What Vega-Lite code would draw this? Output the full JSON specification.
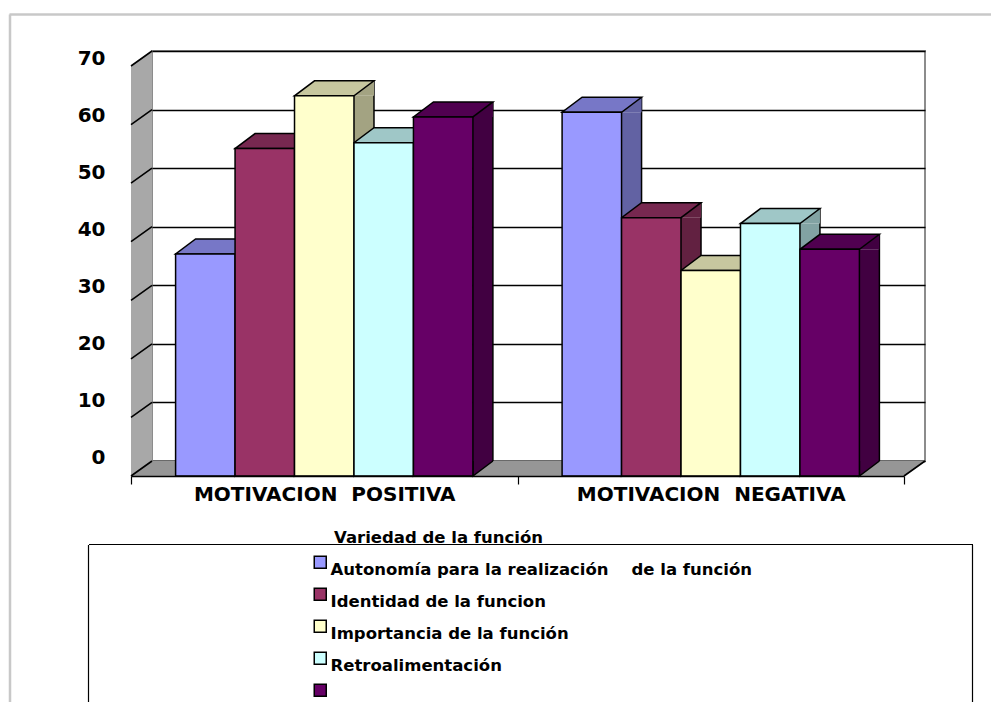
{
  "$schema": "https://vega.github.io/schema/vega-lite/v6.json",
  "width": 773,
  "height": 410,
  "autosize": "none",
  "padding": {"left": 152, "top": 51, "right": 66, "bottom": 241},
  "background": "white",
  "config": {
    "font": "DejaVu Sans",
    "view": {"stroke": "#8c8c8c", "strokeWidth": 2, "fill": "white"}
  },
  "data": {
    "values": [
      {"grupo": "MOTIVACION POSITIVA", "serie": "Autonomía para la realización \u00a0\u00a0\u00a0de la función", "valor": 37.9},
      {"grupo": "MOTIVACION POSITIVA", "serie": "Identidad de la funcion", "valor": 55.9},
      {"grupo": "MOTIVACION POSITIVA", "serie": "Importancia de la función", "valor": 64.9},
      {"grupo": "MOTIVACION POSITIVA", "serie": "Retroalimentación", "valor": 56.9},
      {"grupo": "MOTIVACION POSITIVA", "serie": "Variedad de la función", "valor": 61.3},
      {"grupo": "MOTIVACION NEGATIVA", "serie": "Autonomía para la realización \u00a0\u00a0\u00a0de la función", "valor": 62.1},
      {"grupo": "MOTIVACION NEGATIVA", "serie": "Identidad de la funcion", "valor": 44.1},
      {"grupo": "MOTIVACION NEGATIVA", "serie": "Importancia de la función", "valor": 35.1},
      {"grupo": "MOTIVACION NEGATIVA", "serie": "Retroalimentación", "valor": 43.1},
      {"grupo": "MOTIVACION NEGATIVA", "serie": "Variedad de la función", "valor": 38.7}
    ]
  },
  "layer": [
    {
      "layer": [
        {
          "transform": [{"aggregate": [{"op": "count", "as": "n"}]}],
          "mark": {"type": "point", "shape": "M0,0 L7.73,0 L7.52,0.15 L-0.21,0.15 Z", "size": 40000, "filled": true, "color": "#969696", "strokeWidth": 0, "opacity": 1},
          "encoding": {
            "x": {"datum": "MOTIVACION POSITIVA", "type": "nominal", "bandPosition": 0, "scale": {"domain": ["MOTIVACION POSITIVA", "MOTIVACION NEGATIVA"], "paddingInner": 0, "paddingOuter": 0}, "axis": null},
            "y": {"datum": 0, "type": "quantitative", "scale": {"domain": [0, 70], "nice": false}, "axis": {"orient": "left", "title": null, "domain": false, "ticks": false, "labels": false, "grid": true, "gridColor": "black", "gridWidth": 1.6, "gridOpacity": 1, "values": [0, 10, 20, 30, 40, 50, 60, 70], "zindex": 0}}
          }
        },
        {
          "transform": [{"aggregate": [{"op": "count", "as": "n"}]}],
          "mark": {"type": "point", "shape": "M0,0 L0,-4.1 L-0.21,-3.95 L-0.21,0.15 Z", "size": 40000, "filled": true, "color": "#a8a8a8", "strokeWidth": 0, "opacity": 1},
          "encoding": {
            "x": {"datum": "MOTIVACION POSITIVA", "type": "nominal", "bandPosition": 0, "axis": null},
            "y": {"datum": 0, "type": "quantitative", "axis": null}
          }
        },
        {
          "transform": [{"aggregate": [{"op": "count", "as": "n"}]}],
          "mark": {"type": "point", "shape": "M0,0 L-0.21,0.15 M0,-0.585714 L-0.21,-0.435714 M0,-1.171429 L-0.21,-1.021429 M0,-1.757143 L-0.21,-1.607143 M0,-2.342857 L-0.21,-2.192857 M0,-2.928571 L-0.21,-2.778571 M0,-3.514286 L-0.21,-3.364286 M0,-4.1 L-0.21,-3.95 M7.73,0 L7.52,0.15", "size": 40000, "filled": false, "color": "black", "strokeWidth": 1.6, "opacity": 1},
          "encoding": {
            "x": {"datum": "MOTIVACION POSITIVA", "type": "nominal", "bandPosition": 0, "axis": null},
            "y": {"datum": 0, "type": "quantitative", "axis": null}
          }
        },
        {
          "mark": {"type": "bar", "yOffset": 15},
          "encoding": {
            "x": {"field": "grupo", "type": "nominal", "axis": null},
            "xOffset": {"field": "serie", "type": "nominal", "scale": {"domain": ["Autonomía para la realización \u00a0\u00a0\u00a0de la función", "Identidad de la funcion", "Importancia de la función", "Retroalimentación", "Variedad de la función"], "range": [83.058, 340.9], "paddingInner": 0.66365, "paddingOuter": 0}},
            "y": {"field": "valor", "type": "quantitative", "stack": null, "axis": null},
            "fill": {"field": "serie", "type": "nominal", "scale": {"domain": ["Autonomía para la realización \u00a0\u00a0\u00a0de la función", "Identidad de la funcion", "Importancia de la función", "Retroalimentación", "Variedad de la función"], "range": ["#6262a3", "#622141", "#a3a382", "#82a3a3", "#410041"]}, "legend": null}
          }
        },
        {
          "mark": {"type": "rule", "color": "black", "strokeWidth": 1.5},
          "encoding": {
            "x": {"field": "grupo", "type": "nominal", "axis": null},
            "xOffset": {"field": "serie", "type": "nominal", "scale": {"domain": ["Autonomía para la realización \u00a0\u00a0\u00a0de la función", "Identidad de la funcion", "Importancia de la función", "Retroalimentación", "Variedad de la función"], "range": [103.058, 340.904], "paddingInner": 1, "paddingOuter": 0}},
            "y": {"field": "valor", "type": "quantitative", "axis": null},
            "y2": {"datum": 0}
          }
        },
        {
          "layer": [
            {
              "mark": {"type": "point", "shape": "M0.2973,-0.15 L0.2973,0 L0.4973,-0.15", "size": 40000, "filled": true, "stroke": "black", "strokeWidth": 1.5, "opacity": 1, "yOffset": 15},
              "encoding": {
                "x": {"field": "grupo", "type": "nominal", "axis": null},
                "xOffset": {"field": "serie", "type": "nominal"},
                "y": {"datum": 0, "type": "quantitative", "axis": null},
                "fill": {"field": "serie", "type": "nominal", "scale": {"domain": ["Autonomía para la realización \u00a0\u00a0\u00a0de la función", "Identidad de la funcion", "Importancia de la función", "Retroalimentación", "Variedad de la función"], "range": ["#6262a3", "#622141", "#a3a382", "#82a3a3", "#410041"]}, "legend": null}
              }
            },
            {
              "mark": {"type": "point", "shape": "M0.2973,0 L0.4973,-0.15 L0.4973,0 Z", "size": 40000, "filled": true, "strokeWidth": 0, "opacity": 1, "yOffset": 15},
              "encoding": {
                "x": {"field": "grupo", "type": "nominal", "axis": null},
                "xOffset": {"field": "serie", "type": "nominal"},
                "y": {"field": "valor", "type": "quantitative", "axis": null},
                "fill": {"field": "serie", "type": "nominal", "scale": {"domain": ["Autonomía para la realización \u00a0\u00a0\u00a0de la función", "Identidad de la funcion", "Importancia de la función", "Retroalimentación", "Variedad de la función"], "range": ["#6262a3", "#622141", "#a3a382", "#82a3a3", "#410041"]}, "legend": null}
              }
            },
            {
              "mark": {"type": "point", "shape": "M-0.2973,0 L0.2973,0 L0.4973,-0.15 L-0.0973,-0.15 Z", "size": 40000, "filled": true, "stroke": "black", "strokeWidth": 1.5, "opacity": 1, "yOffset": 15},
              "encoding": {
                "x": {"field": "grupo", "type": "nominal", "axis": null},
                "xOffset": {"field": "serie", "type": "nominal"},
                "y": {"field": "valor", "type": "quantitative", "axis": null},
                "fill": {"field": "serie", "type": "nominal", "scale": {"domain": ["Autonomía para la realización \u00a0\u00a0\u00a0de la función", "Identidad de la funcion", "Importancia de la función", "Retroalimentación", "Variedad de la función"], "range": ["#7777c7", "#772850", "#c7c79f", "#9fc7c7", "#500050"]}, "legend": null}
              }
            },
            {
              "mark": {"type": "bar", "stroke": "black", "strokeWidth": 1.5, "yOffset": 15, "y2Offset": 15},
              "encoding": {
                "x": {"field": "grupo", "type": "nominal", "axis": null},
                "xOffset": {"field": "serie", "type": "nominal", "scale": {"domain": ["Autonomía para la realización \u00a0\u00a0\u00a0de la función", "Identidad de la funcion", "Importancia de la función", "Retroalimentación", "Variedad de la función"], "range": [-21, 365.5], "paddingInner": 0, "paddingOuter": 0.75}},
                "y": {"field": "valor", "type": "quantitative", "stack": null, "axis": {"orient": "left", "title": null, "offset": 21, "position": 15, "grid": false, "labels": false, "values": [0, 10, 20, 30, 40, 50, 60, 70], "domainColor": "black", "domainWidth": 1.5, "tickColor": "black", "tickSize": 7, "tickWidth": 1.2, "zindex": 1}},
                "y2": {"datum": 0},
                "color": {
                  "field": "serie", "type": "nominal",
                  "scale": {"domain": ["Autonomía para la realización \u00a0\u00a0\u00a0de la función", "Identidad de la funcion", "Importancia de la función", "Retroalimentación", "Variedad de la función"], "range": ["#9999ff", "#993366", "#ffffcc", "#ccffff", "#660066"]},
                  "legend": {"title": null, "orient": "none", "legendX": 160, "legendY": 503, "padding": 0, "symbolType": "square", "symbolSize": 144, "symbolStrokeColor": "black", "symbolStrokeWidth": 1.5, "labelFont": "DejaVu Sans", "labelFontSize": 16.5, "labelFontWeight": "bold", "labelColor": "black", "labelBaseline": "top", "labelOffset": 2, "labelLimit": 700, "rowPadding": 6, "labelExpr": "datum.value == 'Variedad de la función' ? '' : datum.label"}
                }
              }
            }
          ],
          "resolve": {"scale": {"fill": "independent"}}
        }
      ],
      "resolve": {"scale": {"xOffset": "independent", "fill": "independent"}, "axis": {"y": "independent"}}
    },
    {
      "mark": {"type": "point", "opacity": 0},
      "encoding": {
        "x": {"field": "grupo", "type": "nominal", "scale": {"domain": ["MOTIVACION POSITIVA", "MOTIVACION NEGATIVA"], "range": [-21, 752], "paddingInner": 0, "paddingOuter": 0}, "axis": {"orient": "bottom", "title": null, "offset": 15, "tickBand": "extent", "ticks": true, "tickSize": 8, "tickColor": "black", "tickWidth": 1.2, "domain": true, "domainColor": "black", "domainWidth": 1.5, "labels": true, "labelExpr": "replace(datum.label, ' ', '\u00a0 ')", "labelFont": "DejaVu Sans", "labelFontSize": 20, "labelFontWeight": "bold", "labelColor": "black", "labelPadding": 0, "labelAngle": 0, "labelLimit": 400, "grid": false, "zindex": 1}}
      }
    },
    {
      "transform": [{"aggregate": [{"op": "count", "as": "n"}]}],
      "mark": {"type": "point", "opacity": 0},
      "encoding": {
        "y": {"field": "n", "type": "quantitative", "scale": {"domain": [0, 70], "nice": false, "range": [406, 7]}, "axis": {"orient": "left", "offset": 47, "title": null, "domain": false, "ticks": false, "tickSize": 0, "grid": false, "values": [0, 10, 20, 30, 40, 50, 60, 70], "labelFont": "DejaVu Sans", "labelFontSize": 20, "labelFontWeight": "bold", "labelColor": "black", "labelPadding": 0}}
      }
    },
    {
      "transform": [{"aggregate": [{"op": "count", "as": "n"}]}],
      "mark": {"type": "point", "opacity": 0},
      "encoding": {
        "x": {"field": "n", "type": "quantitative", "scale": {"domain": [0, 1], "range": [-143, 845]}, "axis": {"orient": "top", "offset": 37, "title": null, "domainColor": "#c8c8c8", "domainWidth": 2.5, "ticks": false, "labels": false, "grid": false}},
        "y": {"field": "n", "type": "quantitative", "scale": {"domain": [0, 1], "range": [660, -37]}, "axis": {"orient": "left", "offset": 142.5, "title": null, "domainColor": "#c8c8c8", "domainWidth": 2.5, "ticks": false, "labels": false, "grid": false}}
      }
    },
    {
      "transform": [{"aggregate": [{"op": "count", "as": "n"}]}],
      "mark": {"type": "point", "opacity": 0},
      "encoding": {
        "x": {"field": "n", "type": "quantitative", "scale": {"domain": [0, 1], "range": [-63.5, 820.5]}, "axis": {"orient": "top", "offset": -493, "title": "Variedad de la función", "titleX": 286, "titleY": -1.5, "titleAlign": "center", "titleBaseline": "alphabetic", "titleAngle": 0, "titleFont": "DejaVu Sans", "titleFontSize": 16.5, "titleFontWeight": "bold", "titleColor": "black", "domainColor": "black", "domainWidth": 1.2, "ticks": false, "labels": false, "grid": false}},
        "y": {"field": "n", "type": "quantitative", "scale": {"domain": [0, 1], "range": [660, 493.5]}, "axis": {"orient": "left", "offset": 64, "title": null, "domainColor": "black", "domainWidth": 1.2, "ticks": false, "labels": false, "grid": false}}
      }
    },
    {
      "transform": [{"aggregate": [{"op": "count", "as": "n"}]}],
      "mark": {"type": "point", "opacity": 0},
      "encoding": {
        "y": {"field": "n", "type": "quantitative", "scale": {"domain": [0, 1], "range": [660, 493.5]}, "axis": {"orient": "right", "offset": 47, "title": null, "domainColor": "black", "domainWidth": 1.2, "ticks": false, "labels": false, "grid": false}}
      }
    }
  ],
  "resolve": {"scale": {"x": "independent", "y": "independent"}, "axis": {"x": "independent", "y": "independent"}}
}
